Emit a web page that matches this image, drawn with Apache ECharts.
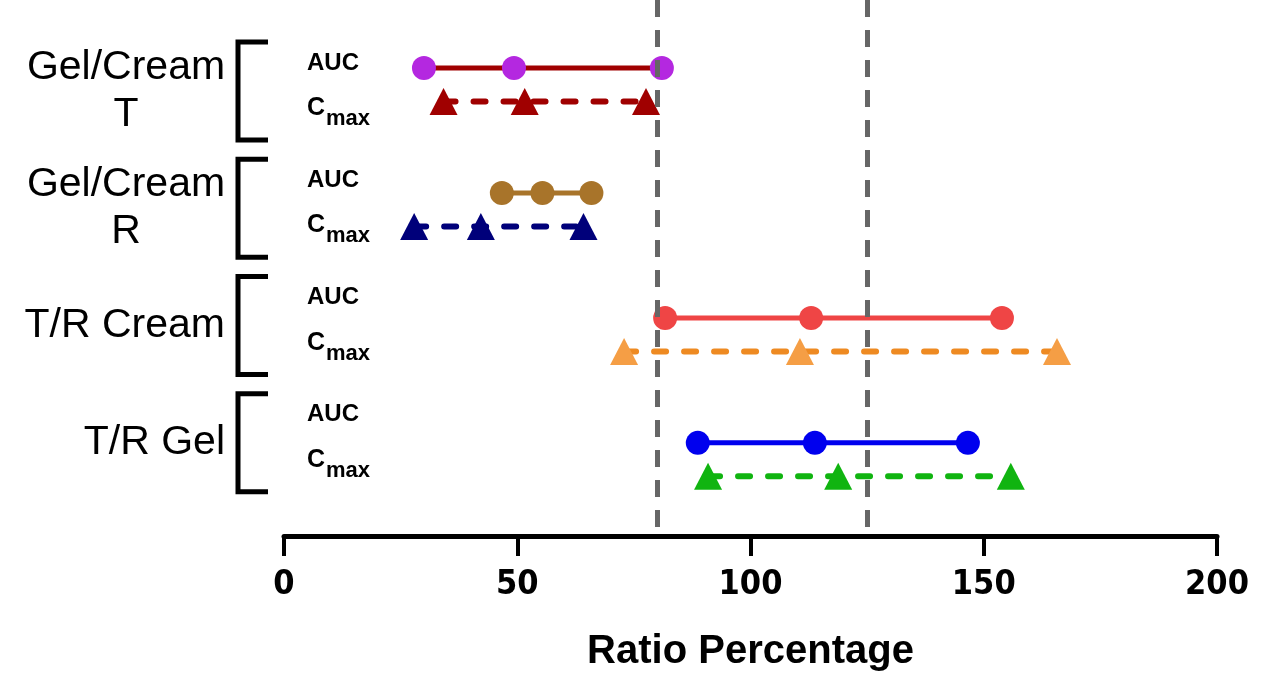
<!DOCTYPE html>
<html>
<head>
<meta charset="utf-8">
<script src="https://cdn.jsdelivr.net/npm/echarts@6/dist/echarts.min.js"></script>
<style>
  html, body { margin: 0; padding: 0; background: #fff; }
  #chart { width: 1274px; height: 677px; }
</style>
</head>
<body>
<div id="chart"></div>
<script>
// 分组名称
const groupNames = ['Gel/Cream\nT', 'Gel/Cream\nR', 'T/R Cream', 'T/R Gel'];
// 每组 [下限, 点估计, 上限]
const aucValues = [
  [30.0, 49.3, 81.0],
  [46.7, 55.4, 65.9],
  [81.7, 113.0, 153.9],
  [88.7, 113.8, 146.6],
];
const cmaxValues = [
  [34.2, 51.6, 77.6],
  [27.9, 42.2, 64.2],
  [72.9, 110.6, 165.7],
  [90.9, 118.8, 155.8],
];
// 参考线 80% / 125%
const limitLines = [80, 125];
const xTicks = [0, 50, 100, 150, 200];

// 颜色
const aucMarkerColors = ['#b428e0', '#a8742a', '#ef4545', '#0000ee'];
const aucLineColors = ['#a00000', '#a8742a', '#ef4545', '#0000ee'];
const cmaxMarkerColors = ['#a00000', '#00007a', '#f59e45', '#10b410'];
const cmaxLineColors = ['#a00000', '#00007a', '#ee8a22', '#10b410'];

// 行在 y 轴上的位置
const rowY = (i) => 2.03 + 3.73 * i;
const bracketY = (i) => 2.72 + 3.5 * i;

const chart = echarts.init(document.getElementById('chart'));

const series = [];
groupNames.forEach((name, i) => {
  series.push({
    type: 'line',
    name: name + ' AUC',
    data: aucValues[i].map((v) => [v, rowY(i)]),
    symbol: 'circle',
    symbolSize: 24,
    itemStyle: { color: aucMarkerColors[i] },
    lineStyle: { color: aucLineColors[i], width: 5 },
    silent: true,
    z: 3,
  });
  series.push({
    type: 'line',
    name: name + ' Cmax',
    data: cmaxValues[i].map((v) => [v, rowY(i) + 1.0]),
    symbol: 'triangle',
    symbolSize: [28, 27],
    itemStyle: { color: cmaxMarkerColors[i] },
    lineStyle: { color: cmaxLineColors[i], width: 6, type: [12, 18], cap: 'round' },
    silent: true,
    z: 3,
  });
});

// 左侧分组标签和括号
series.push({
  type: 'custom',
  silent: true,
  clip: false,
  data: groupNames.map((n, i) => [0, bracketY(i)]),
  renderItem: (params, api) => {
    const i = params.dataIndex;
    const p = api.coord([0, bracketY(i)]);
    const x0 = p[0];
    const cy = p[1];
    const lines = groupNames[i].split('\n');
    const font = 'Liberation Sans, Arial, sans-serif';
    const children = [
      {
        type: 'polyline',
        shape: { points: [[x0 - 16, cy - 49], [x0 - 46, cy - 49], [x0 - 46, cy + 49], [x0 - 16, cy + 49]] },
        style: { stroke: '#000', lineWidth: 5, fill: null },
      },
      {
        type: 'text',
        x: lines.length > 1 ? x0 - 158 : x0 - 59,
        y: cy,
        style: {
          text: groupNames[i],
          fontFamily: font,
          fontSize: 41,
          lineHeight: 47,
          fill: '#000',
          align: lines.length > 1 ? 'center' : 'right',
          verticalAlign: 'middle',
        },
      },
      {
        type: 'text',
        x: x0 + 23,
        y: cy - 28,
        style: {
          text: 'AUC',
          fontFamily: font,
          fontWeight: 'bold',
          fontSize: 24,
          fill: '#000',
          align: 'left',
          verticalAlign: 'middle',
        },
      },
      {
        type: 'text',
        x: x0 + 23,
        y: cy + 17,
        style: {
          text: 'C',
          fontFamily: font,
          fontWeight: 'bold',
          fontSize: 25,
          fill: '#000',
          align: 'left',
          verticalAlign: 'middle',
        },
      },
      {
        type: 'text',
        x: x0 + 42,
        y: cy + 28,
        style: {
          text: 'max',
          fontFamily: font,
          fontWeight: 'bold',
          fontSize: 22,
          fill: '#000',
          align: 'left',
          verticalAlign: 'middle',
        },
      },
    ];
    return { type: 'group', children: children };
  },
});

// 灰色虚线
series.push({
  type: 'line',
  data: [],
  silent: true,
  z: 10,
  markLine: {
    silent: true,
    symbol: ['none', 'none'],
    label: { show: false },
    lineStyle: { color: '#666666', width: 5, type: [17, 13] },
    data: limitLines.map((v) => ({ xAxis: v })),
  },
});

const option = {
  animation: false,
  grid: {
    left: 284,
    right: 57,
    top: 0,
    bottom: 141,
  },
  xAxis: {
    type: 'value',
    position: 'bottom',
    min: xTicks[0],
    max: xTicks[xTicks.length - 1],
    interval: 50,
    name: 'Ratio Percentage',
    nameLocation: 'middle',
    nameGap: 96,
    nameTextStyle: {
      color: '#000',
      fontFamily: 'Liberation Sans, Arial, sans-serif',
      fontWeight: 'bold',
      fontSize: 40,
    },
    axisLine: {
      onZero: false,
      lineStyle: { color: '#000', width: 5 },
    },
    axisTick: {
      show: true,
      length: 20,
      lineStyle: { color: '#000', width: 4 },
    },
    axisLabel: {
      margin: 32,
      color: '#000',
      fontFamily: 'Liberation Sans Narrow, DejaVu Sans Condensed, Liberation Sans, sans-serif',
      fontWeight: 'bold',
      fontSize: 34,
    },
    splitLine: { show: false },
  },
  yAxis: {
    type: 'value',
    inverse: true,
    min: 0,
    max: 16,
    show: false,
  },
  series: series,
};

chart.setOption(option);
</script>
</body>
</html>
